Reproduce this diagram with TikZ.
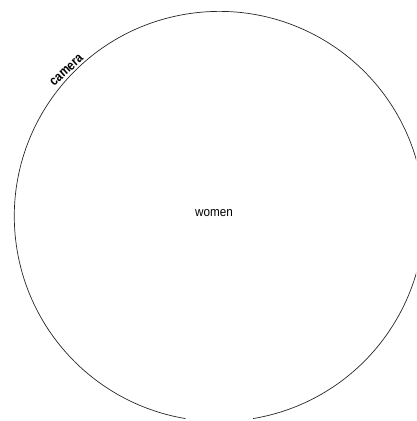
\documentclass[tikz,border=0pt]{standalone}
\usepackage{fontspec}
\setmainfont{Liberation Sans}
\newfontfamily\condbold[FakeStretch=0.85]{Liberation Sans}
\newfontfamily\cond[FakeStretch=0.9]{Liberation Sans}
\begin{document}
\begin{tikzpicture}[x=1pt,y=1pt,
  ringstyle/.style={circle, inner sep=0pt, minimum size=410pt},
  ringline/.style={draw=black!85, line width=0.7pt},
  labelstyle/.style={font=\cond\fontsize{13}{15}\selectfont, inner sep=0pt},
  arclabel/.style={font=\condbold\bfseries\fontsize{13.5}{15}\selectfont, inner sep=1pt}]
\useasboundingbox (0,0) rectangle (416,421);
\clip (0,0) rectangle (416,421);
\node[ringstyle] (ring) at (217.5,204.5) {};
\draw[ringline] (ring.-80.5) arc[start angle=-80.5, end angle=260.5, radius=205pt];
\node[labelstyle] (women) at (214,208) {women};
\node[arclabel, anchor=south, rotate=42] (camera) at (ring.136) {camera};
\end{tikzpicture}
\end{document}
